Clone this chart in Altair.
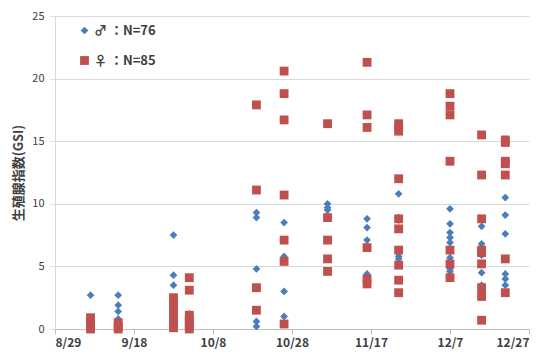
import altair as alt
import pandas as pd

# sampling dates (2013)
dates = ["2013-09-07", "2013-09-14", "2013-09-28", "2013-10-02", "2013-10-19",
         "2013-10-26", "2013-11-06", "2013-11-16", "2013-11-24", "2013-12-07",
         "2013-12-15", "2013-12-21"]

male_gsi = [
    [2.7, 0.6, 0.3, 0.1],
    [2.7, 1.9, 1.4, 0.8, 0.4, 0.1],
    [7.5, 4.3, 3.5, 1.0, 0.3, 0.1],
    [1.2, 0.5, 0.1],
    [9.3, 8.9, 4.8, 0.6, 0.2],
    [8.5, 5.8, 3.0, 1.0],
    [10.0, 9.7, 9.5],
    [8.8, 8.1, 7.1, 4.4],
    [10.8, 8.9, 8.7, 5.8, 5.6],
    [9.6, 8.4, 7.7, 7.3, 6.9, 5.7, 4.8, 4.6],
    [8.2, 6.8, 6.3, 5.9, 4.5, 3.5],
    [10.5, 9.1, 7.6, 4.4, 4.0, 3.5],
]

female_gsi = [
    [0.9, 0.6, 0.3, 0.0],
    [0.5, 0.2, 0.0],
    [2.5, 2.0, 1.5, 1.0, 0.5, 0.1],
    [4.1, 3.1, 1.1, 0.8, 0.5, 0.2, 0.0],
    [17.9, 11.1, 3.3, 1.5],
    [20.6, 18.8, 16.7, 10.7, 7.1, 5.4, 0.4],
    [16.4, 8.9, 7.1, 5.6, 4.6],
    [21.3, 17.1, 16.1, 6.5, 4.0, 3.6],
    [16.4, 16.0, 15.8, 12.0, 8.8, 8.0, 6.3, 5.1, 3.9, 2.9],
    [18.8, 17.8, 17.1, 13.4, 6.3, 5.2, 4.1],
    [15.5, 12.3, 8.8, 6.3, 6.1, 5.2, 3.3, 2.6, 0.7],
    [15.1, 14.9, 13.4, 13.2, 12.3, 5.6, 2.9],
]

sex_labels = ["♂ ：N=76", "♀ ：N=85"]
x_tick_dates = [(8, 29), (9, 18), (10, 8), (10, 28), (11, 17), (12, 7), (12, 27)]
y_ticks = [0, 5, 10, 15, 20, 25]

rows = []
for d, vals in zip(dates, male_gsi):
    for v in vals:
        rows.append({"date": d, "gsi": v, "sex": sex_labels[0]})
for d, vals in zip(dates, female_gsi):
    for v in vals:
        rows.append({"date": d, "gsi": v, "sex": sex_labels[1]})
df = pd.DataFrame(rows)


def dt(m, d):
    return alt.DateTime(year=2013, month=m, date=d, utc=True)


blue = "#4a7ebb"
red = "#c0504d"
jp = "Noto Sans CJK JP"

chart = alt.Chart(df).mark_point(filled=True, opacity=1, strokeWidth=0).encode(
    x=alt.X(
        "date:T",
        scale=alt.Scale(type="utc", domain=[dt(8, 29), dt(12, 27)]),
        axis=alt.Axis(
            values=[dt(m, d) for m, d in x_tick_dates],
            labelExpr="utcFormat(datum.value, '%-m/%-d')",
            title=None, grid=False,
            labelFontSize=12, labelFontWeight="bold", labelFont=jp,
            labelColor="#404040", tickSize=5, labelPadding=3,
            domainColor="#bfbfbf", tickColor="#bfbfbf",
        ),
    ),
    y=alt.Y(
        "gsi:Q",
        scale=alt.Scale(domain=[0, 25], nice=False),
        axis=alt.Axis(
            values=y_ticks, title="生殖腺指数(GSI)", grid=True,
            gridColor="#d9d9d9", domainColor="#d9d9d9", tickColor="#d9d9d9",
            tickSize=5, labelFontSize=11, labelFont=jp, labelColor="#404040",
            labelPadding=6, titleFont=jp, titleFontSize=13,
            titleFontWeight="bold", titleColor="#404040", titlePadding=6,
        ),
    ),
    shape=alt.Shape("sex:N", scale=alt.Scale(domain=sex_labels, range=["diamond", "square"]), legend=alt.Legend(title=None)),
    color=alt.Color("sex:N", scale=alt.Scale(domain=sex_labels, range=[blue, red]), legend=alt.Legend(title=None)),
    size=alt.Size("sex:N", scale=alt.Scale(domain=sex_labels, range=[60, 78]), legend=alt.Legend(title=None)),
).properties(
    width=474, height=313,
    autosize=alt.AutoSizeParams(type="none"),
    padding={"left": 47, "top": 8, "right": 12, "bottom": 26},
).configure_view(stroke=None).configure_legend(
    orient="none", legendX=23, legendY=8, rowPadding=16,
    labelFont=jp, labelFontSize=13, labelFontWeight="bold", labelColor="#404040",
    labelOffset=3, padding=0,
)

chart.save("out.html", embed_options={"renderer": "svg", "actions": False})
